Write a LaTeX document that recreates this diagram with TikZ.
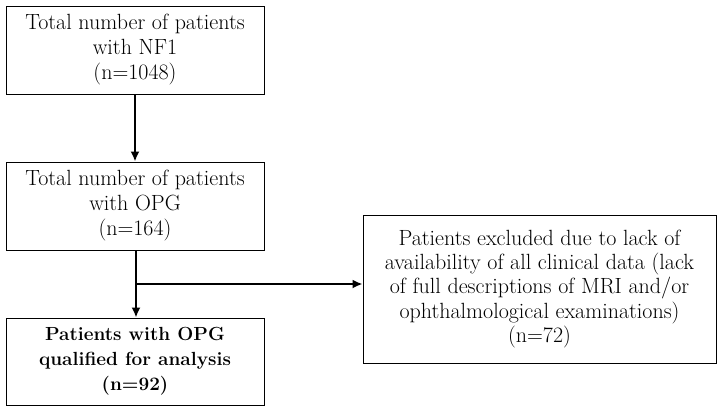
\documentclass[tikz,border=0pt]{standalone}
\usetikzlibrary{arrows.meta}
\begin{document}
\begin{tikzpicture}[x=1pt,y=1pt,
	box/.style={draw, line width=1pt, align=center, inner sep=0pt, minimum width=258pt, minimum height=88pt, font=\fontsize{22}{25}\selectfont},
	link/.style={-{Latex[length=10pt,width=9pt]}, line width=1.8pt}]
	\useasboundingbox (0,0) rectangle (722,-413);
	\node[box] (nf) at (135,-50) {Total number of patients\\with NF1\\(n=1048)};
	\node[box] (opg) at (135,-206) {Total number of patients\\with OPG\\(n=164)};
	\node[box, minimum height=87pt, font=\fontsize{19}{25}\selectfont\bfseries] (final) at (135,-361.5) {Patients with OPG\\qualified for analysis\\(n=92)};
	\node[box, minimum width=353pt, minimum height=148pt, font=\fontsize{22}{24.3}\selectfont] (excl) at (539.5,-289) {Patients excluded due to lack of\\availability of all clinical data (lack\\of full descriptions of MRI and/or\\ophthalmological examinations)\\(n=72)};
	\coordinate (split) at (136,-284);
	\draw[link] (nf) -- (opg);
	\draw[line width=1.8pt] (opg.south -| split) -- (split);
	\draw[link] (split) -- (final.north -| split);
	\draw[link] (split) -- (excl.west |- split);
\end{tikzpicture}
\end{document}
